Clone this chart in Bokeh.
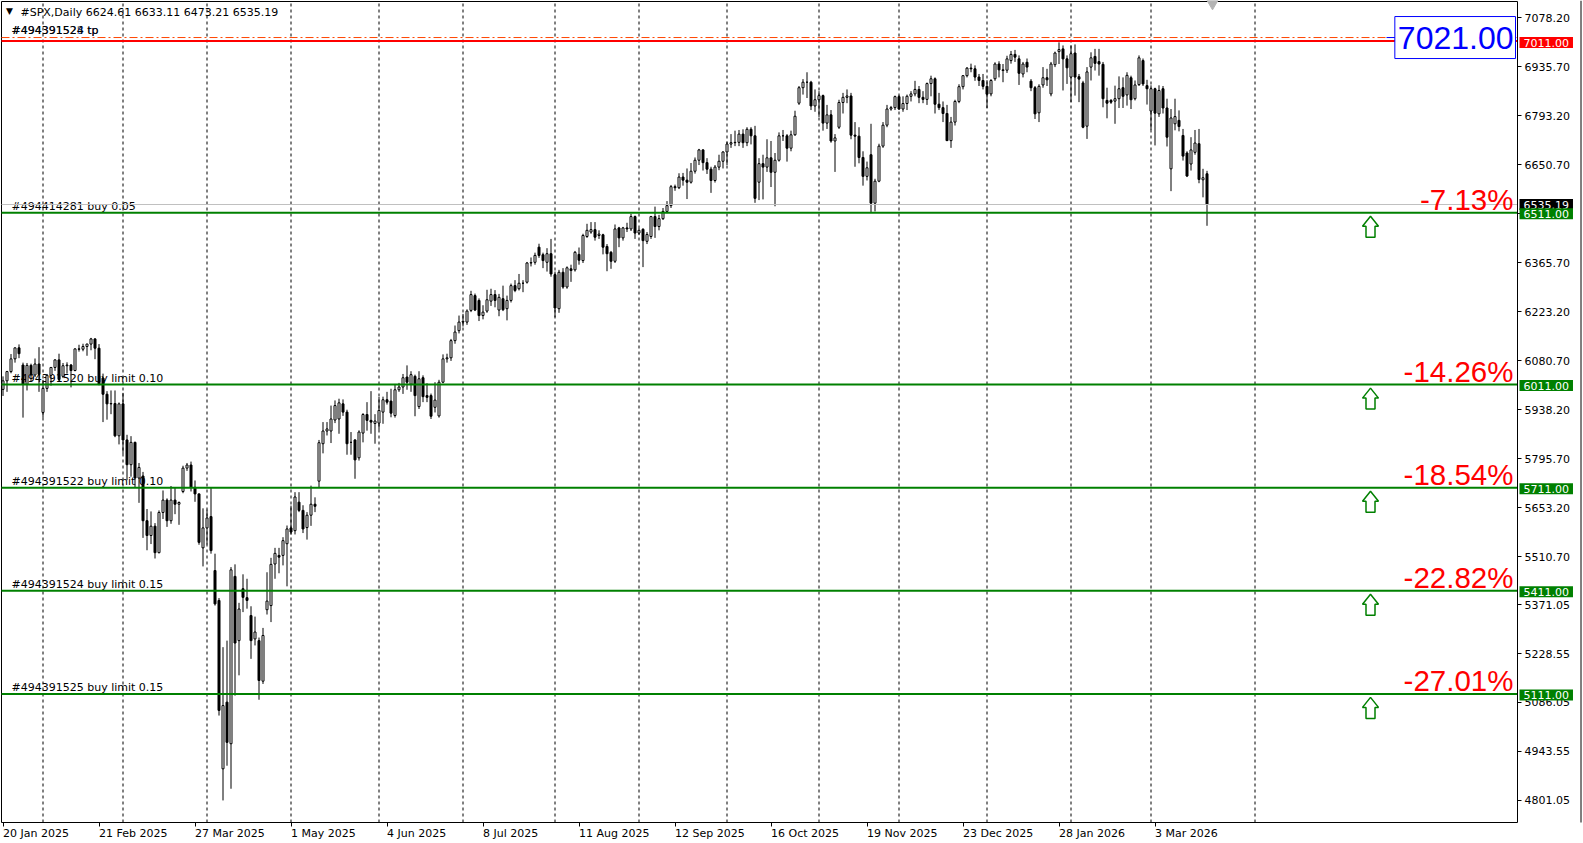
from bokeh.plotting import figure
from bokeh.models import Range1d, FixedTicker, PrintfTickFormatter, Label, ColumnDataSource
from bokeh.core.properties import value
from bokeh.embed import file_html
from bokeh.resources import INLINE

# ---------------- data (daily bars, #SPX CFD, 20 Jan 2025 .. 20 Mar 2026) ----------------
open_ = [
    5997, 6022, 6049, 6086, 6118, 6068, 6012, 6067, 6039, 6071,
    5930, 6000, 6038, 6061, 6083, 6035, 6066, 6068, 6052, 6115,
    6114, 6122, 6129, 6144, 6117, 6030, 5983, 5955, 5956, 5862,
    5955, 5850, 5778, 5843, 5739, 5745, 5615, 5572, 5599, 5522,
    5639, 5675, 5615, 5675, 5663, 5700, 5768, 5777, 5712, 5693,
    5536, 5594, 5627, 5470, 5383, 4893, 5087, 4966, 5453, 5266,
    5417, 5391, 5339, 5271, 5266, 5148, 5356, 5368, 5489, 5514,
    5514, 5548, 5594, 5586, 5669, 5645, 5595, 5631, 5663, 5730,
    5839, 5876, 5876, 5908, 5911, 5955, 5931, 5843, 5850, 5798,
    5870, 5924, 5907, 5898, 5899, 5931, 5967, 5963, 5921, 5996,
    6004, 6033, 6012, 6035, 5947, 6031, 5979, 5979, 5945, 5920,
    6018, 6086, 6089, 6139, 6168, 6193, 6193, 6227, 6270, 6256,
    6212, 6225, 6254, 6273, 6228, 6261, 6232, 6256, 6299, 6290,
    6306, 6309, 6365, 6367, 6411, 6389, 6367, 6392, 6331, 6232,
    6338, 6295, 6348, 6345, 6390, 6372, 6442, 6455, 6462, 6445,
    6447, 6413, 6396, 6370, 6467, 6438, 6467, 6464, 6500, 6452,
    6463, 6428, 6442, 6500, 6471, 6494, 6515, 6532, 6587, 6584,
    6615, 6606, 6600, 6632, 6664, 6694, 6657, 6638, 6605, 6644,
    6661, 6688, 6711, 6715, 6716, 6740, 6715, 6754, 6735, 6600,
    6654, 6644, 6671, 6629, 6664, 6735, 6735, 6699, 6738, 6830,
    6875, 6891, 6891, 6822, 6840, 6852, 6772, 6796, 6720, 6760,
    6832, 6847, 6851, 6737, 6734, 6672, 6617, 6680, 6539, 6603,
    6705, 6766, 6813, 6817, 6849, 6813, 6829, 6850, 6857, 6870,
    6847, 6841, 6887, 6901, 6827, 6817, 6800, 6721, 6775, 6835,
    6878, 6910, 6932, 6930, 6906, 6896, 6879, 6857, 6901, 6944,
    6927, 6926, 6954, 6972, 6959, 6915, 6949, 6894, 6875, 6802,
    6883, 6904, 6857, 6942, 6980, 6988, 6959, 6906, 6976, 6907,
    6889, 6763, 6935, 6966, 6951, 6943, 6838, 6838, 6836, 6843,
    6875, 6854, 6904, 6843, 6884, 6954, 6881, 6807, 6872, 6799,
    6872, 6816, 6639, 6770, 6780, 6736, 6685, 6653, 6687, 6712,
    6607, 6624.61]

high_ = [
    6035, 6051, 6100, 6119, 6128, 6075, 6074, 6072, 6087, 6120,
    6025, 6042, 6062, 6084, 6101, 6074, 6076, 6071, 6116, 6127,
    6130, 6130, 6147, 6146, 6129, 6043, 5992, 5994, 5994, 5959,
    5987, 5865, 5861, 5845, 5783, 5757, 5649, 5642, 5608, 5645,
    5703, 5680, 5716, 5712, 5671, 5775, 5783, 5787, 5732, 5694,
    5651, 5647, 5711, 5519, 5390, 5247, 5266, 5480, 5488, 5376,
    5459, 5446, 5366, 5336, 5275, 5303, 5465, 5507, 5536, 5536,
    5567, 5601, 5659, 5698, 5698, 5660, 5640, 5717, 5683, 5850,
    5902, 5902, 5950, 5965, 5970, 5968, 5938, 5873, 5852, 5878,
    5928, 5960, 5992, 5925, 5975, 5976, 5990, 5999, 6013, 6016,
    6042, 6067, 6050, 6040, 6050, 6038, 6015, 5985, 6018, 6025,
    6099, 6101, 6144, 6183, 6212, 6217, 6230, 6284, 6276, 6262,
    6242, 6287, 6290, 6286, 6275, 6299, 6270, 6305, 6315, 6333,
    6315, 6368, 6381, 6395, 6421, 6395, 6408, 6435, 6340, 6345,
    6350, 6355, 6360, 6400, 6410, 6450, 6479, 6484, 6484, 6460,
    6450, 6420, 6400, 6477, 6470, 6470, 6482, 6508, 6503, 6466,
    6466, 6455, 6502, 6529, 6505, 6525, 6545, 6592, 6593, 6626,
    6627, 6640, 6656, 6672, 6697, 6696, 6670, 6645, 6650, 6680,
    6690, 6718, 6740, 6750, 6752, 6754, 6760, 6760, 6764, 6670,
    6680, 6725, 6720, 6685, 6745, 6752, 6740, 6750, 6808, 6880,
    6900, 6920, 6895, 6870, 6865, 6855, 6825, 6810, 6740, 6840,
    6860, 6870, 6860, 6775, 6760, 6690, 6660, 6770, 6610, 6712,
    6775, 6825, 6822, 6852, 6853, 6850, 6855, 6865, 6895, 6880,
    6865, 6890, 6910, 6905, 6860, 6835, 6825, 6790, 6840, 6885,
    6912, 6935, 6945, 6940, 6915, 6915, 6897, 6900, 6949, 6952,
    6944, 6968, 6982, 6985, 6969, 6950, 6960, 6900, 6880, 6885,
    6935, 6930, 6950, 6980, 7007, 6998, 6969, 6998, 7001, 6915,
    6895, 6935, 6978, 6988, 6988, 6950, 6875, 6842, 6881, 6908,
    6905, 6920, 6910, 6896, 6969, 6960, 6898, 6882, 6875, 6882,
    6880, 6843, 6813, 6843, 6809, 6755, 6690, 6731, 6752, 6755,
    6639, 6633.11]

low_ = [
    5978, 5990, 6044, 6075, 6088, 5915, 5994, 6020, 6033, 5990,
    5915, 5990, 6008, 6051, 6020, 6030, 6043, 6003, 6050, 6107,
    6108, 6095, 6111, 6085, 6009, 5902, 5909, 5925, 5858, 5837,
    5810, 5733, 5743, 5711, 5667, 5565, 5529, 5547, 5505, 5520,
    5620, 5597, 5606, 5634, 5603, 5695, 5760, 5700, 5670, 5545,
    5482, 5546, 5519, 5368, 5048, 4801, 4902, 4835, 5106, 5165,
    5349, 5359, 5213, 5252, 5094, 5140, 5342, 5320, 5446, 5462,
    5485, 5424, 5575, 5575, 5640, 5579, 5560, 5600, 5640, 5710,
    5811, 5863, 5841, 5899, 5868, 5920, 5807, 5807, 5737, 5790,
    5843, 5877, 5868, 5839, 5880, 5897, 5953, 5916, 5915, 5990,
    5984, 5996, 5990, 5919, 5940, 5960, 5960, 5911, 5930, 5915,
    6015, 6075, 6080, 6130, 6160, 6180, 6185, 6222, 6225, 6196,
    6201, 6220, 6240, 6236, 6210, 6225, 6198, 6250, 6280, 6285,
    6280, 6305, 6355, 6360, 6380, 6350, 6340, 6325, 6207, 6220,
    6290, 6290, 6310, 6340, 6360, 6365, 6438, 6450, 6430, 6435,
    6390, 6341, 6348, 6365, 6411, 6430, 6455, 6458, 6435, 6446,
    6353, 6420, 6435, 6438, 6460, 6490, 6510, 6525, 6575, 6580,
    6590, 6551, 6596, 6625, 6650, 6634, 6624, 6569, 6599, 6635,
    6640, 6650, 6700, 6705, 6705, 6700, 6705, 6710, 6540, 6548,
    6550, 6630, 6586, 6530, 6660, 6720, 6660, 6690, 6735, 6825,
    6855, 6845, 6810, 6805, 6790, 6750, 6755, 6715, 6630, 6755,
    6800, 6830, 6725, 6645, 6655, 6590, 6605, 6512, 6515, 6600,
    6700, 6760, 6808, 6810, 6810, 6805, 6810, 6835, 6850, 6830,
    6830, 6825, 6850, 6800, 6810, 6775, 6720, 6700, 6765, 6830,
    6870, 6905, 6920, 6895, 6880, 6870, 6816, 6850, 6895, 6905,
    6891, 6918, 6945, 6950, 6883, 6905, 6920, 6865, 6784, 6775,
    6875, 6880, 6850, 6935, 6944, 6867, 6886, 6833, 6852, 6833,
    6757, 6726, 6896, 6925, 6910, 6818, 6786, 6828, 6770, 6816,
    6816, 6823, 6813, 6838, 6880, 6880, 6826, 6752, 6707, 6790,
    6800, 6704, 6574, 6751, 6748, 6663, 6615, 6634, 6680, 6597,
    6556, 6473.21]

close_ = [
    6022, 6049, 6086, 6118, 6101, 6012, 6067, 6039, 6071, 6041,
    6000, 6038, 6061, 6083, 6026, 6066, 6068, 6052, 6115, 6114,
    6122, 6129, 6144, 6117, 6013, 5983, 5955, 5956, 5862, 5955,
    5850, 5778, 5843, 5739, 5770, 5615, 5572, 5599, 5522, 5639,
    5675, 5615, 5675, 5663, 5668, 5768, 5777, 5712, 5693, 5552,
    5594, 5623, 5528, 5373, 5063, 5077, 4970, 5472, 5259, 5358,
    5392, 5383, 5266, 5291, 5150, 5281, 5381, 5488, 5520, 5509,
    5557, 5591, 5582, 5684, 5645, 5591, 5631, 5663, 5657, 5842,
    5876, 5882, 5911, 5950, 5958, 5931, 5839, 5843, 5792, 5873,
    5924, 5907, 5902, 5905, 5936, 5967, 5960, 5928, 5996, 6004,
    6031, 6018, 6040, 5979, 6028, 5976, 5974, 5919, 5966, 6018,
    6086, 6089, 6139, 6164, 6193, 6195, 6225, 6273, 6228, 6212,
    6222, 6258, 6273, 6256, 6265, 6229, 6256, 6299, 6285, 6306,
    6306, 6365, 6366, 6387, 6387, 6372, 6392, 6333, 6234, 6338,
    6295, 6351, 6343, 6396, 6373, 6445, 6460, 6462, 6440, 6449,
    6411, 6392, 6370, 6464, 6438, 6467, 6464, 6500, 6452, 6460,
    6430, 6448, 6500, 6471, 6494, 6515, 6532, 6587, 6584, 6615,
    6606, 6600, 6632, 6664, 6694, 6657, 6638, 6605, 6644, 6661,
    6688, 6711, 6715, 6716, 6740, 6715, 6754, 6735, 6553, 6654,
    6644, 6671, 6629, 6664, 6735, 6735, 6699, 6738, 6792, 6875,
    6891, 6891, 6822, 6840, 6852, 6772, 6796, 6720, 6729, 6832,
    6847, 6851, 6737, 6734, 6672, 6617, 6642, 6539, 6603, 6705,
    6766, 6813, 6817, 6849, 6813, 6829, 6850, 6857, 6870, 6847,
    6841, 6887, 6901, 6827, 6817, 6800, 6721, 6775, 6835, 6878,
    6910, 6932, 6930, 6906, 6896, 6879, 6856, 6896, 6944, 6927,
    6925, 6959, 6972, 6964, 6917, 6944, 6935, 6875, 6799, 6879,
    6904, 6898, 6944, 6976, 6986, 6959, 6933, 6974, 6906, 6900,
    6760, 6921, 6962, 6946, 6944, 6843, 6830, 6833, 6843, 6872,
    6850, 6911, 6840, 6883, 6962, 6886, 6872, 6872, 6801, 6867,
    6816, 6731, 6787, 6791, 6762, 6676, 6618, 6694, 6714, 6608,
    6613, 6535.19]

date_ticks = [0, 24, 48, 72, 96, 120, 144, 168, 192, 216, 240, 264, 288]
date_labels = ["20 Jan 2025", "21 Feb 2025", "27 Mar 2025", "1 May 2025", "4 Jun 2025",
               "8 Jul 2025", "11 Aug 2025", "12 Sep 2025", "16 Oct 2025", "19 Nov 2025",
               "23 Dec 2025", "28 Jan 2026", "3 Mar 2026"]
month_starts = [10, 30, 51, 72, 94, 115, 138, 159, 181, 204, 224, 246, 267, 287, 313]
price_ticks = [7078.20, 6935.70, 6793.20, 6650.70, 6508.20, 6365.70, 6223.20, 6080.70,
               5938.20, 5795.70, 5653.20, 5510.70, 5371.05, 5228.55, 5086.05, 4943.55, 4801.05]
order_levels = [6511.00, 6011.00, 5711.00, 5411.00, 5111.00]
order_pct = ["-7.13%", "-14.26%", "-18.54%", "-22.82%", "-27.01%"]
order_names = ["#494414281 buy 0.05", "#494391520 buy limit 0.10", "#494391522 buy limit 0.10",
               "#494391524 buy limit 0.15", "#494391525 buy limit 0.15"]
tp_names = ["#494391525 tp", "#494391528 tp", "#494391524 tp"]
tp_colors = ["#E8C800", "#3050C0", "#000000"]
tp_level = 7011.00
target_level = 7021.00
bid_price = 6535.19
header_text = "#SPX,Daily  6624.61 6633.11 6473.21 6535.19"

# ---------------- geometry helpers (screen pixel -> data) ----------------
def rx(px):
    return (px - 2.5) / 4.0

def ry(py):
    return 6511.0 + (212.3 - py) * 2.91

W, H = 1582, 842
PXX = 0.25
PXY = 2.91
FONT = "DejaVu Sans"
CL, CR, CT, CB = 1, 1517, 1, 822          # chart box in pixels

p = figure(width=W, height=H,
           x_range=Range1d(rx(0), rx(W)), y_range=Range1d(ry(H), ry(0)),
           y_axis_location="right", toolbar_location=None, output_backend="svg",
           min_border=0, min_border_left=0, min_border_right=0,
           min_border_top=0, min_border_bottom=0,
           background_fill_color="white", border_fill_color="white")
p.outline_line_color = None
p.xgrid.grid_line_color = None
p.ygrid.grid_line_color = None

# ---- axes fixed on the chart box ----
xa = p.xaxis[0]
xa.fixed_location = ry(CB)
xa.bounds = (rx(CL), rx(CR))
xa.ticker = FixedTicker(ticks=date_ticks)
xa.major_label_text_font_size = "0px"
xa.major_label_text_color = None
xa.major_tick_out = 4
xa.major_tick_in = 0
xa.minor_tick_out = 0
xa.minor_tick_in = 0
xa.axis_line_color = "black"
xa.major_tick_line_color = "black"

ya = p.yaxis[0]
ya.fixed_location = rx(CR)
ya.bounds = (ry(CB), ry(CT))
ya.ticker = FixedTicker(ticks=price_ticks)
ya.formatter = PrintfTickFormatter(format="%.2f")
ya.major_label_text_font = FONT
ya.major_label_text_font_size = "11px"
ya.major_label_text_color = "black"
ya.major_tick_out = 4
ya.major_tick_in = 0
ya.minor_tick_out = 0
ya.minor_tick_in = 0
ya.major_label_standoff = 3
ya.axis_line_color = "black"
ya.major_tick_line_color = "black"

# chart border (left, top) and window edge on the right
p.segment(x0=[rx(CL), rx(CL), rx(1580.5)], y0=[ry(CB), ry(CT), ry(0)],
          x1=[rx(CL), rx(CR), rx(1580.5)], y1=[ry(CT), ry(CT), ry(CB)],
          line_color="black", line_width=1)

# vertical month grid
p.segment(x0=month_starts, y0=[ry(CB)] * len(month_starts),
          x1=month_starts, y1=[ry(CT)] * len(month_starts),
          line_color="black", line_width=1, line_dash="3 3")

# date labels, left aligned on their ticks
for t, lab in zip(date_ticks, date_labels):
    p.add_layout(Label(x=t, y=ry(833), text=lab, text_align="left", text_baseline="middle",
                       text_font=FONT, text_font_size="11px", text_color="black"))

# object descriptions (under the candles)
p.text(x=[rx(11)] * len(order_levels), y=[lv + 6.5 * PXY for lv in order_levels], text=order_names,
       text_font=value(FONT), text_font_size="11px", text_baseline="middle", text_align="left",
       text_color="black")
p.text(x=[rx(11)] * len(tp_names), y=[ry(30)] * len(tp_names), text=tp_names,
       text_font=value(FONT), text_font_size="11px", text_baseline="middle", text_align="left",
       text_color=tp_colors)
p.text(x=[rx(9)], y=[ry(10.5)], text=["\u25BC"], text_font=value(FONT), text_font_size="9px",
       text_baseline="middle", text_align="center", text_color="black")
p.text(x=[rx(20)], y=[ry(12)], text=[header_text], text_font=value(FONT), text_font_size="11px",
       text_baseline="middle", text_align="left", text_color="black")

# candles
idx = list(range(len(close_)))
src = ColumnDataSource(dict(
    x=idx,
    top=[max(o, c) for o, c in zip(open_, close_)],
    bottom=[min(o, c) for o, c in zip(open_, close_)],
    high=high_, low=low_,
    fill=["white" if c >= o else "black" for o, c in zip(open_, close_)],
))
p.segment(x0="x", y0="low", x1="x", y1="high", source=src, line_color="black", line_width=1)
p.vbar(x="x", width=0.5, top="top", bottom="bottom", source=src,
       fill_color="fill", line_color="black", line_width=1)

# horizontal object lines (limited to the chart box)
def hline(level, color, width, dash="solid"):
    p.segment(x0=[rx(CL)], x1=[rx(CR)], y0=[level], y1=[level],
              line_color=color, line_width=width, line_dash=dash)

hline(bid_price, "#C0C0C0", 1)
for lv in order_levels:
    hline(lv, "#008000", 2)
hline(tp_level, "#FF0000", 2)
hline(target_level, "#FF4500", 1, "8 3 2 3")
p.segment(x0=[rx(1386)], x1=[rx(1397)], y0=[target_level], y1=[target_level],
          line_color="#0000FF", line_width=1)

# green arrows under each order line
ax = rx(1370)
shape_x = [0, 8, 4.5, 4.5, -4.5, -4.5, -8]
shape_y = [0, 10, 10, 21, 21, 10, 10]
xs = [[ax + dx * PXX for dx in shape_x] for _ in order_levels]
ys = [[lv - (3.5 + dy) * PXY for dy in shape_y] for lv in order_levels]
p.patches(xs, ys, fill_color="white", line_color="#008000", line_width=1.5)

# chart-shift marker
p.scatter(x=[rx(1212)], y=[ry(3)], marker="inverted_triangle", size=11,
          fill_color="#B4B4B4", line_color="#B4B4B4")

# percentage labels
for lv, pct in zip(order_levels, order_pct):
    p.add_layout(Label(x=rx(1513), y=lv + 13.5 * PXY, text=pct, text_align="right",
                       text_baseline="middle", text_color="#FF0000",
                       text_font="Liberation Sans", text_font_size="29.5px"))

# target box
p.add_layout(Label(x=rx(1515), y=target_level, text="7021.00", text_align="right",
                   text_baseline="middle", text_color="#0000FF", text_font="Liberation Sans",
                   text_font_size="32px", background_fill_color="white",
                   border_line_color="#0000FF", border_line_width=1,
                   padding=dict(left=3, right=2, top=10, bottom=10)))

# price tags on the scale
def tag(price, bg, shift=1.0):
    p.add_layout(Label(x=rx(1519), y=price - shift * PXY, text="%.2f" % price, text_align="left",
                       text_baseline="middle", text_color="white", text_font=FONT,
                       text_font_size="11px", background_fill_color=bg,
                       padding=dict(left=4, right=4, top=2, bottom=1)))

tag(bid_price, "#000000", 0.0)
tag(tp_level, "#FF0000", 1.5)
for lv in order_levels:
    tag(lv, "#008000")

open("out.html", "w").write(file_html(p, INLINE, title="#SPX,Daily"))
